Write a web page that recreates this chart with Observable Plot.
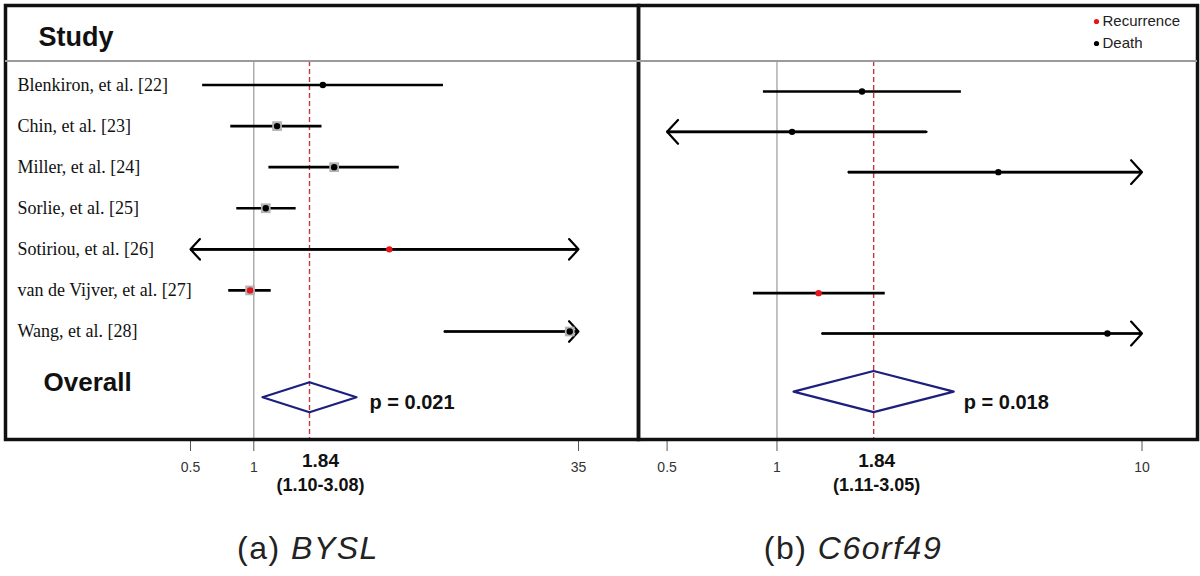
<!DOCTYPE html>
<html><head><meta charset="utf-8">
<script src="https://cdn.jsdelivr.net/npm/d3@7"></script>
<script src="https://cdn.jsdelivr.net/npm/@observablehq/plot@0.6"></script>
<style>
body{margin:0;background:#fff;}
#wrap{position:relative;width:1200px;height:576px;overflow:hidden;background:#fff;font-family:"Liberation Sans",Arial,sans-serif;}
.hline{position:absolute;left:5px;top:60px;width:1192px;height:2px;background:#9a9a9a;}
.cap{position:absolute;top:548px;font-size:32px;letter-spacing:1.5px;transform:translate(-50%,-50%);white-space:nowrap;color:#222;}
</style></head><body>
<div id="wrap"></div>
<script>
// ---- data ----
const studies = ["Blenkiron, et al. [22]", "Chin, et al. [23]", "Miller, et al. [24]", "Sorlie, et al. [25]", "Sotiriou, et al. [26]", "van de Vijver, et al. [27]", "Wang, et al. [28]"];
const outcomes = ["Death", "Death", "Death", "Death", "Recurrence", "Recurrence", "Death"];
const legendLabels = ["Recurrence", "Death"];
const legendColors = ["#e8141b", "#000000"];

const genes = ["BYSL", "C6orf49"];
const panelTags = ["(a)", "(b)"];

// BYSL hazard ratios (95% CI)
const byslEst = [2.13, 1.29, 2.41, 1.14, 4.41, 0.96, 31.8];
const byslLo  = [0.571, 0.777, 1.18, 0.83, 0.42, 0.76, 8.07];
const byslHi  = [7.98, 2.11, 4.92, 1.59, 42, 1.21, 45];
const byslBox = [0, 1, 1, 1, 0, 1, 1];

// C6orf49 hazard ratios (95% CI); no data for Sorlie and Sotiriou
const c6Est = [1.71, 1.10, 4.04, null, null, 1.30, 8.04];
const c6Lo  = [0.918, 0.42, 1.57, null, null, 0.862, 1.33];
const c6Hi  = [3.20, 2.57, 12, null, null, 1.98, 12];

const overallEst = [1.84, 1.84];
const overallLo  = [1.10, 1.11];
const overallHi  = [3.08, 3.05];
const pValues = ["p = 0.021", "p = 0.018"];
const overallCI = ["(1.10-3.08)", "(1.11-3.05)"];

const axisDomains = [[0.5, 35], [0.5, 10]];
const axisTicks = [[0.5, 1, 35], [0.5, 1, 10]];

// ---- drawing ----
const wrap = document.getElementById("wrap");
const FONT = "Liberation Sans, Arial, sans-serif";

function panel(o) {
  const rows = studies.map((study, i) => ({
    study, i, outcome: outcomes[i], est: o.est[i], lo: o.lo[i], hi: o.hi[i], box: o.box ? o.box[i] : 0
  })).filter(d => d.est != null);
  const [xmin, xmax] = o.domain;
  const cl = v => Math.max(xmin, Math.min(xmax, v));
  const arrows = [];
  rows.forEach(d => {
    const loC = d.lo < xmin, hiC = d.hi > xmax;
    if (loC) arrows.push({i: d.i, x1: hiC ? d.est : d.hi, x2: xmin});
    if (hiC) arrows.push({i: d.i, x1: loC ? d.est : d.lo, x2: xmax});
  });
  const k = o.k;
  const diamond = [
    [overallLo[k], o.oy], [overallEst[k], o.oy - o.hh], [overallHi[k], o.oy],
    [overallEst[k], o.oy + o.hh], [overallLo[k], o.oy]
  ];
  const marks = [
    Plot.ruleX([1], {stroke: "#9a9a9a", strokeWidth: 1.2, insetTop: 56}),
    Plot.ruleX([overallEst[k]], {stroke: "#c0393f", strokeWidth: 1.4, strokeDasharray: "5,3", insetTop: 56}),
    Plot.ruleY(rows, {y: "i", x1: d => cl(d.lo), x2: d => cl(d.hi), stroke: "#000", strokeWidth: 2.6}),
    Plot.arrow(arrows, {x1: "x1", x2: "x2", y1: "i", y2: "i", stroke: "#000", strokeWidth: 2.2, headAngle: 95, headLength: o.head}),
    Plot.dot(rows.filter(d => d.box), {x: "est", y: "i", symbol: "square", r: 5.5, fill: "#b4b4b4", stroke: "none"}),
    Plot.dot(rows, {x: "est", y: "i", r: 3.2, fill: "outcome", stroke: "none"}),
    Plot.line(diamond, {x: d => d[0], y: d => d[1], stroke: "#1c1f7c", strokeWidth: 2.2}),
    Plot.text([pValues[k]], {x: () => overallHi[k], y: () => o.oy, dx: o.pdx, dy: o.pdy, text: d => d, textAnchor: "start", fontSize: 20, fontWeight: "bold", fill: "#111"}),
    Plot.text([overallEst[k]], {x: d => d, frameAnchor: "bottom", lineAnchor: "middle", dx: o.estDx, dy: 21, text: d => d.toFixed(2), fontSize: 19, fontWeight: "bold", fill: "#111"}),
    Plot.text([overallCI[k]], {x: () => overallEst[k], frameAnchor: "bottom", lineAnchor: "middle", dx: o.estDx, dy: 46, text: d => d, fontSize: 18, fontWeight: "bold", fill: "#111"}),
    Plot.axisX({ticks: axisTicks[k], tickFormat: d => String(d), tickSize: 12, tickPadding: 11, fontSize: 14, stroke: "#555", fill: "#333"}),
    Plot.frame({stroke: "#111", strokeWidth: 3.5})
  ];
  if (o.labels) {
    marks.push(
      Plot.text(rows, {y: "i", text: "study", frameAnchor: "left", dx: 12, textAnchor: "start", fontFamily: "Liberation Serif, Times New Roman, serif", fontSize: 18, fill: "#111"}),
      Plot.text(["Study"], {frameAnchor: "top-left", lineAnchor: "middle", dx: 33, dy: 32, text: d => d, textAnchor: "start", fontSize: 27, fontWeight: "bold", fill: "#111"}),
      Plot.text(["Overall"], {y: () => o.oy, frameAnchor: "left", dx: 38, dy: -15, text: d => d, textAnchor: "start", fontSize: 26, fontWeight: "bold", fill: "#111"})
    );
  }
  if (o.legend) {
    legendLabels.forEach((lab, j) => {
      marks.push(
        Plot.dot([lab], {frameAnchor: "top-right", dx: -101, dy: 16 + 22 * j, r: 2.6, fill: d => d, stroke: "none"}),
        Plot.text([lab], {frameAnchor: "top-right", lineAnchor: "middle", dx: -95, dy: 16 + 22 * j, text: d => d, textAnchor: "start", fontSize: 15, fill: "#222"})
      );
    });
  }
  const svg = Plot.plot({
    width: o.width, height: 500,
    marginTop: 5, marginLeft: o.mL, marginRight: o.mR, marginBottom: 61,
    x: {type: "log", domain: o.domain, range: o.range},
    y: {domain: [0, 6], range: o.yRange, axis: null},
    color: {domain: legendLabels, range: legendColors},
    style: {fontFamily: FONT, background: "none", overflow: "visible"},
    marks
  });
  svg.style.position = "absolute";
  svg.style.left = o.left + "px";
  svg.style.top = "0px";
  wrap.appendChild(svg);
}

panel({k: 0, left: 0, width: 640, mL: 5, mR: 2, domain: axisDomains[0], range: [190, 578],
  est: byslEst, lo: byslLo, hi: byslHi, box: byslBox, yRange: [84.5, 331], oy: 7.6, hh: 0.365,
  head: 9.5, pdx: 13, pdy: 5, estDx: 11, labels: true});
panel({k: 1, left: 636, width: 564, mL: 2, mR: 3, domain: axisDomains[1], range: [30.6, 505.5],
  est: c6Est, lo: c6Lo, hi: c6Hi, yRange: [91, 333], oy: 7.44, hh: 0.51,
  head: 11, pdx: 10, pdy: 11, estDx: 3, legend: true});

const hl = document.createElement("div");
hl.className = "hline";
wrap.appendChild(hl);

const capX = [308, 853];
genes.forEach((g, j) => {
  const c = document.createElement("div");
  c.className = "cap";
  c.style.left = capX[j] + "px";
  c.innerHTML = panelTags[j] + " <i>" + g + "</i>";
  wrap.appendChild(c);
});
</script>
</body></html>
